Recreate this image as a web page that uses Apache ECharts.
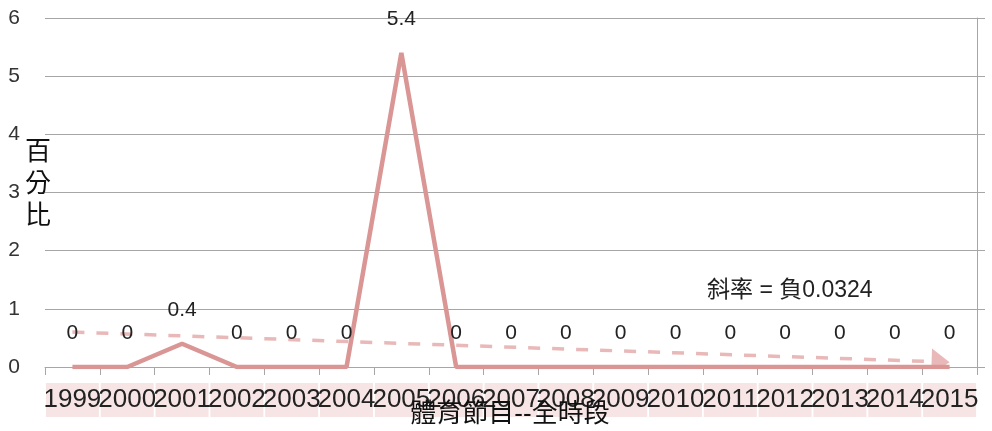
<!DOCTYPE html>
<html>
<head>
<meta charset="utf-8">
<script src="https://cdn.jsdelivr.net/npm/echarts@6/dist/echarts.min.js"></script>
<style>
  html, body { margin: 0; padding: 0; background: #fff; }
  #chart { width: 992px; height: 431px; }
</style>
</head>
<body>
<div id="chart"></div>
<script>
// Yearly share (%) of sports programmes across all time slots
const years = ['1999','2000','2001','2002','2003','2004','2005','2006','2007',
               '2008','2009','2010','2011','2012','2013','2014','2015'];
const shares = [0, 0, 0.4, 0, 0, 0, 5.4, 0, 0, 0, 0, 0, 0, 0, 0, 0, 0];
const yTicks = [0, 1, 2, 3, 4, 5, 6];
const slopeText = '斜率 = 負0.0324';
const xTitle = '體育節目--全時段';
const yTitle = '百分比';

// Least-squares linear trend across the yearly values
function linearTrend(vals) {
  const n = vals.length;
  let sx = 0, sy = 0, sxx = 0, sxy = 0;
  vals.forEach((v, i) => { sx += i; sy += v; sxx += i * i; sxy += i * v; });
  const slope = (n * sxy - sx * sy) / (n * sxx - sx * sx);
  const intercept = (sy - slope * sx) / n;
  return { slope, intercept };
}
const trend = linearTrend(shares);
const lastIdx = shares.length - 1;
const trendSegment = [[0, trend.intercept, lastIdx, trend.intercept + trend.slope * lastIdx]];

const lineColor = '#D99694';
const trendColor = '#E8B9B8';
const gridColor = '#A6A6A6';
const cjk = "'Liberation Sans', 'Noto Sans CJK TC', sans-serif";

// Dashed trend line with a filled arrowhead at its end, clipped to the plot area
function renderTrend(params, api) {
  const p0 = api.coord([api.value(0), api.value(1)]);
  const p1 = api.coord([api.value(2), api.value(3)]);
  const dx = p1[0] - p0[0], dy = p1[1] - p0[1];
  const len = Math.sqrt(dx * dx + dy * dy);
  const ux = dx / len, uy = dy / len;
  const headLen = 18, headHalf = 13;
  const bx = p1[0] - ux * headLen, by = p1[1] - uy * headLen;
  return {
    type: 'group',
    children: [
      {
        type: 'line',
        shape: { x1: p0[0], y1: p0[1], x2: bx, y2: by },
        style: { stroke: trendColor, lineWidth: 3.5, lineDash: [12, 12] }
      },
      {
        type: 'polygon',
        shape: {
          points: [
            [p1[0], p1[1]],
            [bx - uy * headHalf, by + ux * headHalf],
            [bx + uy * headHalf, by - ux * headHalf]
          ]
        },
        style: { fill: trendColor }
      }
    ]
  };
}

const chart = echarts.init(document.getElementById('chart'), null, { renderer: 'canvas' });
chart.setOption({
  animation: false,
  backgroundColor: '#ffffff',
  grid: { left: 45, right: 15, top: 18, bottom: 64, containLabel: false, outerBoundsMode: 'none' },
  xAxis: {
    type: 'category',
    data: years,
    boundaryGap: true,
    axisLine: { show: true, lineStyle: { color: gridColor, width: 1 } },
    axisTick: { show: true, alignWithLabel: false, length: 8, lineStyle: { color: gridColor } },
    axisLabel: {
      interval: 0,
      hideOverlap: false,
      margin: 16,
      fontSize: 26,
      fontFamily: "'Liberation Sans', sans-serif",
      color: '#222',
      backgroundColor: '#F7E5E5',
      width: 53,
      height: 34,
      lineHeight: 34,
      align: 'center',
      overflow: 'none'
    }
  },
  yAxis: [
    {
      type: 'value',
      min: yTicks[0],
      max: yTicks[yTicks.length - 1],
      interval: 1,
      axisLine: { show: false },
      axisTick: { show: false },
      splitLine: { show: true, lineStyle: { color: gridColor, width: 1 } },
      axisLabel: {
        margin: 25,
        fontSize: 21,
        fontFamily: "'Liberation Sans', sans-serif",
        color: '#333'
      }
    },
    {
      type: 'value',
      position: 'right',
      min: yTicks[0],
      max: yTicks[yTicks.length - 1],
      interval: 1,
      axisLine: { show: true, lineStyle: { color: gridColor, width: 1 } },
      axisTick: { show: true, inside: false, length: 8, lineStyle: { color: gridColor } },
      splitLine: { show: false },
      axisLabel: { show: false }
    }
  ],
  series: [
    {
      type: 'custom',
      data: trendSegment,
      z: 1,
      clip: true,
      silent: true,
      renderItem: renderTrend
    },
    {
      name: xTitle,
      type: 'line',
      data: shares,
      z: 3,
      symbol: 'circle',
      symbolSize: 0,
      showSymbol: true,
      lineStyle: { color: lineColor, width: 4.5 },
      itemStyle: { color: lineColor },
      label: {
        show: true,
        position: 'top',
        distance: 23,
        fontSize: 21,
        fontFamily: "'Liberation Sans', sans-serif",
        color: '#222'
      },
      labelLayout: { hideOverlap: false }
    }
  ],
  graphic: [
    {
      // slope annotation for the trend line
      type: 'text',
      left: 707,
      top: 279,
      z: 100,
      style: { text: slopeText, fontSize: 23, fontFamily: cjk, fill: '#222' }
    },
    {
      // category axis title, drawn over the year labels
      type: 'text',
      x: 510,
      y: 415,
      z: 100,
      style: {
        text: xTitle,
        fontSize: 26,
        fontFamily: cjk,
        fill: '#111',
        align: 'center',
        verticalAlign: 'middle'
      }
    },
    {
      // value axis title, one character per line
      type: 'text',
      x: 38,
      y: 185,
      z: 100,
      style: {
        text: yTitle.split('').join('\n'),
        fontSize: 26,
        lineHeight: 32,
        fontFamily: cjk,
        fill: '#111',
        align: 'center',
        verticalAlign: 'middle'
      }
    }
  ]
});
</script>
</body>
</html>
